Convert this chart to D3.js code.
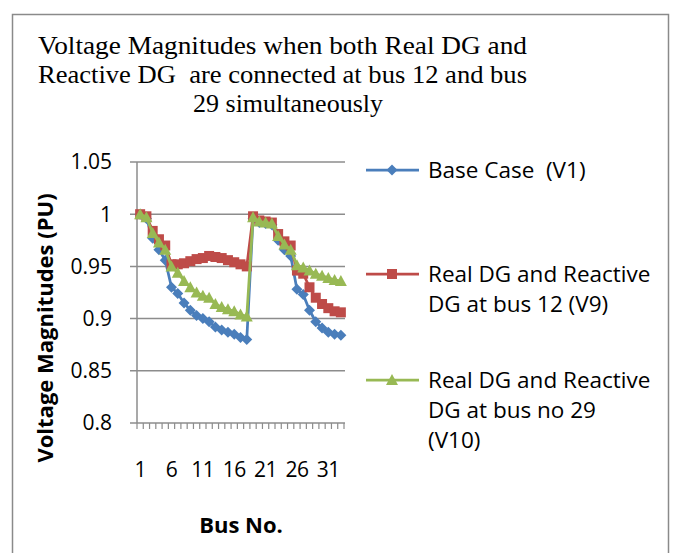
<!DOCTYPE html>
<html>
<head>
<meta charset="utf-8">
<script src="https://cdn.jsdelivr.net/npm/d3@7"></script>
<style>
  body { margin: 0; background: #fff; }
  svg { display: block; }
  text { white-space: pre; }
</style>
</head>
<body>
<div id="chart"></div>
<script>
// bus numbers (IEEE 33-bus feeder)
const buses = [1, 2, 3, 4, 5, 6, 7, 8, 9, 10, 11, 12, 13, 14, 15, 16, 17,
    18, 19, 20, 21, 22, 23, 24, 25, 26, 27, 28, 29, 30, 31, 32, 33];

// voltage magnitudes (PU)
const baseCase = [1.000, 0.996, 0.977, 0.966, 0.956, 0.930, 0.924, 0.915, 0.908, 0.903, 0.900,
    0.897, 0.892, 0.889, 0.887, 0.885, 0.882, 0.880, 0.996, 0.992, 0.991, 0.990, 0.975,
    0.966, 0.960, 0.928, 0.923, 0.908, 0.897, 0.891, 0.887, 0.885, 0.884];
const dgBus12 = [1.000, 0.998, 0.984, 0.976, 0.970, 0.952, 0.952, 0.953, 0.955, 0.957, 0.958,
    0.960, 0.959, 0.958, 0.956, 0.954, 0.952, 0.950, 0.998, 0.994, 0.993, 0.992, 0.981,
    0.974, 0.970, 0.946, 0.943, 0.930, 0.920, 0.914, 0.910, 0.907, 0.906];
const dgBus29 = [1.000, 0.997, 0.982, 0.973, 0.966, 0.950, 0.944, 0.936, 0.930, 0.925, 0.922,
    0.920, 0.914, 0.911, 0.909, 0.907, 0.904, 0.902, 0.997, 0.993, 0.992, 0.991, 0.979,
    0.971, 0.966, 0.951, 0.949, 0.946, 0.943, 0.941, 0.939, 0.937, 0.936];

const yTicks = [0.8, 0.85, 0.9, 0.95, 1, 1.05];
const xLabels = [1, 6, 11, 16, 21, 26, 31];

const titleLines = ["Voltage Magnitudes when both Real DG and",
    "Reactive DG  are connected at bus 12 and bus",
    "29 simultaneously"];

const series = [
    { name: ["Base Case  (V1)"], values: baseCase, color: "#4a7ebb", marker: "diamond" },
    { name: ["Real DG and Reactive", "DG at bus 12 (V9)"], values: dgBus12, color: "#be4b48", marker: "square" },
    { name: ["Real DG and Reactive", "DG at bus no 29", "(V10)"], values: dgBus29, color: "#98b954", marker: "triangle" }
];

const W = 680, H = 553;
const plot = { left: 137, right: 344, top: 162, bottom: 423 };

const svg = d3.select("#chart").append("svg")
    .attr("width", W)
    .attr("height", H);

svg.append("rect")
    .attr("x", 12.5).attr("y", 14.5)
    .attr("width", 656).attr("height", 560)
    .attr("fill", "#fff")
    .attr("stroke", "#8a8a8a")
    .attr("stroke-width", 1.5);

// title
const titleWidths = [489, 489, 190];
const titleX = [38, 38, 193];
svg.append("g").selectAll("text")
    .data(titleLines)
    .enter()
    .append("text")
    .attr("x", (d, i) => titleX[i])
    .attr("y", (d, i) => 54 + i * 29)
    .attr("textLength", (d, i) => titleWidths[i])
    .attr("lengthAdjust", "spacingAndGlyphs")
    .style("font-family", "'Liberation Serif', 'Times New Roman', serif")
    .style("font-size", "25px")
    .style("fill", "#000")
    .text(d => d);

const x = d3.scaleBand()
    .domain(buses)
    .range([plot.left, plot.right]);

const y = d3.scaleLinear()
    .domain([0.8, 1.05])
    .range([plot.bottom, plot.top]);

const gridColor = "#8c8c8c";

// gridlines
svg.append("g").selectAll("line")
    .data(yTicks)
    .enter()
    .append("line")
    .attr("x1", plot.left - 7)
    .attr("x2", plot.right + 1)
    .attr("y1", d => y(d))
    .attr("y2", d => y(d))
    .attr("stroke", gridColor)
    .attr("stroke-width", 1.5);

// y axis line
svg.append("line")
    .attr("x1", plot.left).attr("x2", plot.left)
    .attr("y1", plot.top).attr("y2", plot.bottom)
    .attr("stroke", gridColor)
    .attr("stroke-width", 1.5);

// x axis ticks at category boundaries
const boundaries = buses.map(b => x(b)).concat([plot.right]);
svg.append("g").selectAll("line")
    .data(boundaries)
    .enter()
    .append("line")
    .attr("x1", d => d).attr("x2", d => d)
    .attr("y1", plot.bottom).attr("y2", plot.bottom + 6)
    .attr("stroke", gridColor)
    .attr("stroke-width", 1.2);

const labelFont = "'Open Sans', Lato, sans-serif";

svg.append("g").selectAll("text")
    .data(yTicks)
    .enter()
    .append("text")
    .attr("x", 112)
    .attr("y", d => y(d))
    .attr("dy", "0.35em")
    .attr("text-anchor", "end")
    .style("font-family", labelFont)
    .style("font-size", "21px")
    .text(d => d3.format("")(d));

svg.append("g").selectAll("text")
    .data(xLabels)
    .enter()
    .append("text")
    .attr("x", d => x(d) + x.bandwidth() / 2)
    .attr("y", 470)
    .attr("dy", "0.35em")
    .attr("text-anchor", "middle")
    .style("font-family", labelFont)
    .style("font-size", "21px")
    .style("letter-spacing", "-0.5px")
    .text(d => d);

// axis titles
svg.append("text")
    .attr("transform", "translate(45,328) rotate(-90)")
    .attr("text-anchor", "middle")
    .attr("dy", "0.35em")
    .style("font-family", labelFont)
    .style("font-weight", "bold")
    .style("font-size", "22px")
    .text("Voltage Magnitudes (PU)");

svg.append("text")
    .attr("x", 241)
    .attr("y", 525)
    .attr("dy", "0.35em")
    .attr("text-anchor", "middle")
    .style("font-family", labelFont)
    .style("font-weight", "bold")
    .style("font-size", "22px")
    .text("Bus No.");

function markerPath(type) {
    if (type === "diamond") return "M0,-5.5L5.5,0L0,5.5L-5.5,0Z";
    if (type === "square") return "M-5,-5H5V5H-5Z";
    return "M0,-6L6,5H-6Z";
}

const line = d3.line()
    .x((d, i) => x(buses[i]) + x.bandwidth() / 2)
    .y(d => y(d));

series.forEach(s => {
    const g = svg.append("g");
    g.append("path")
        .attr("d", line(s.values))
        .attr("fill", "none")
        .attr("stroke", s.color)
        .attr("stroke-width", 2.75)
        .attr("stroke-linejoin", "round");
    g.selectAll("path.mk")
        .data(s.values)
        .enter()
        .append("path")
        .attr("class", "mk")
        .attr("d", markerPath(s.marker))
        .attr("transform", (d, i) => `translate(${x(buses[i]) + x.bandwidth() / 2},${y(d)})`)
        .attr("fill", s.color);
});

// legend
const legendY = [170, 274, 380];
const legend = svg.append("g");
series.forEach((s, i) => {
    const ly = legendY[i];
    legend.append("line")
        .attr("x1", 366).attr("x2", 419)
        .attr("y1", ly).attr("y2", ly)
        .attr("stroke", s.color)
        .attr("stroke-width", 2.75);
    legend.append("path")
        .attr("d", markerPath(s.marker))
        .attr("transform", `translate(392,${ly})`)
        .attr("fill", s.color);
    legend.append("text")
        .selectAll("tspan")
        .data(s.name)
        .enter()
        .append("tspan")
        .attr("x", 428)
        .attr("y", (d, j) => ly + j * 30)
        .attr("dy", "0.35em")
        .style("font-family", labelFont)
        .style("font-size", "22.5px")
        .text(d => d);
});
</script>
</body>
</html>
